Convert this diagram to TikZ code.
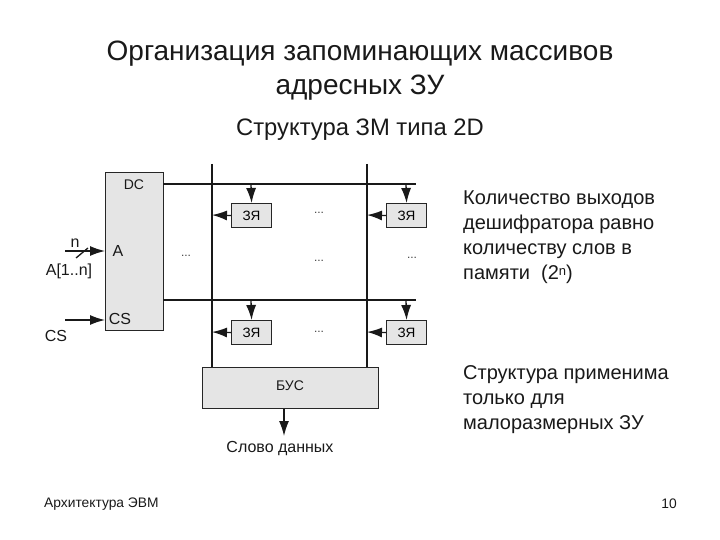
\documentclass[tikz,border=0pt]{standalone}
\usepackage{fontspec}
\setmainfont{Liberation Sans}
\usetikzlibrary{arrows.meta}
\tikzset{
 block/.style={draw=black!85,line width=1.2pt,fill=black!10,inner sep=0pt,anchor=north west},
 cell/.style={block,minimum width=40pt,minimum height=24pt,font=\fontsize{13.5}{13.5}\selectfont},
 wire/.style={draw=black!90,line width=1.3pt},
 arr/.style={wire,-{Latex[length=15pt,width=10pt]}},
 lab/.style={inner sep=0pt,text=black!90,font=\fontsize{14}{14}\selectfont},
 lab2/.style={inner sep=0pt,text=black!90,font=\fontsize{16}{16}\selectfont},
 dots/.style={inner sep=0pt,font=\fontsize{12}{12}\selectfont,text=black!75},
 body/.style={inner sep=0pt,anchor=north west,align=left,text=black!90,font=\fontsize{20}{25}\selectfont},
 title/.style={inner sep=0pt,align=center,text=black!90,font=\fontsize{28}{34}\selectfont},
}
\begin{document}
\begin{tikzpicture}[x=1pt,y=-1pt]
\useasboundingbox (0,0) rectangle (720,540);
\node[title] (t1) at (360,70.5) {Организация запоминающих массивов\\адресных ЗУ};
\node[inner sep=0pt,text=black!90,font=\fontsize{23.8}{24}\selectfont] (t2) at (360,130) {Структура ЗМ типа 2D};

\node[block,minimum width=58pt,minimum height=158pt] (dc) at (105,172) {};
\node[lab] (dcl) at (134,185) {DC};
\node[lab2] (al) at (118,251) {A};
\node[lab2] (csl) at (120,319) {CS};
\node[cell] (c11) at (231,203) {ЗЯ};
\node[cell] (c12) at (386,203) {ЗЯ};
\node[cell] (c21) at (231,320) {ЗЯ};
\node[cell] (c22) at (386,320) {ЗЯ};
\node[block,minimum width=176pt,minimum height=41pt] (bus) at (202,367) {};
\node[lab] (busl) at (290,386) {БУС};

\coordinate (h1a) at (163,184); \coordinate (h1b) at (416,184);
\coordinate (h2a) at (163,300); \coordinate (h2b) at (416,300);
\coordinate (v1a) at (212,164); \coordinate (v1b) at (212,367);
\coordinate (v2a) at (367,164); \coordinate (v2b) at (367,367);
\draw[wire] (h1a) -- (h1b);
\draw[wire] (h2a) -- (h2b);
\draw[wire] (v1a) -- (v1b);
\draw[wire] (v2a) -- (v2b);

\coordinate (p11) at (251,184); \coordinate (p12) at (406,184);
\coordinate (p21) at (251,300); \coordinate (p22) at (406,300);
\draw[arr] (p11) -- (c11.north);
\draw[arr] (p12) -- (c12.north);
\draw[arr] (p21) -- (c21.north);
\draw[arr] (p22) -- (c22.north);
\coordinate (q11) at (212,215); \coordinate (q12) at (367,215);
\coordinate (q21) at (212,332); \coordinate (q22) at (367,332);
\draw[arr] (c11.west) -- (q11);
\draw[arr] (c12.west) -- (q12);
\draw[arr] (c21.west) -- (q21);
\draw[arr] (c22.west) -- (q22);

\coordinate (ain) at (65,251); \coordinate (aend) at (105,251);
\coordinate (csin) at (65,320); \coordinate (csend) at (105,320);
\draw[arr] (ain) -- (aend);
\draw[arr] (csin) -- (csend);
\coordinate (s1) at (76,258); \coordinate (s2) at (88,248);
\draw[wire] (s1) -- (s2);
\node[lab2] (nl) at (75,243) {n};
\node[lab2] (a1n) at (69,271) {A[1..n]};
\node[lab2] (csout) at (56,336) {CS};

\coordinate (bo) at (284,436);
\draw[arr] (bus.south -| bo) -- (bo);
\node[lab2] (word) at (280,449) {Слово данных};

\node[dots] at (186,256) {...};
\node[dots] at (319,213) {...};
\node[dots] at (319,261) {...};
\node[dots] at (412,258) {...};
\node[dots] at (319,332) {...};

\node[body] (b1) at (463,191) {Количество выходов\\дешифратора равно\\количеству слов в\\памяти \ (2\raisebox{0.45ex}{\fontsize{13}{13}\selectfont n})};
\node[body] (b2) at (463,365) {Структура применима\\только для\\малоразмерных ЗУ};
\node[inner sep=0pt,anchor=west,text=black!90,font=\fontsize{13.8}{14}\selectfont] (f1) at (44,504) {Архитектура ЭВМ};
\node[inner sep=0pt,text=black!90,font=\fontsize{13.8}{14}\selectfont] (f2) at (669,504) {10};
\end{tikzpicture}
\end{document}
